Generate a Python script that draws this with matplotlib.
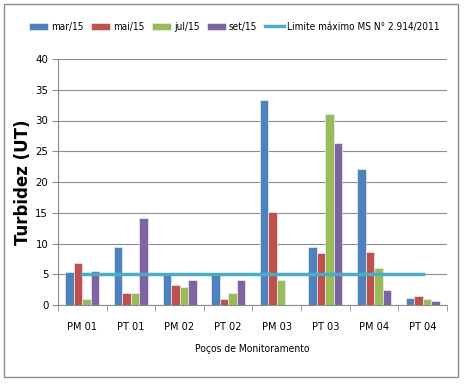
import matplotlib
matplotlib.use("Agg")
import matplotlib.pyplot as plt
import numpy as np
from matplotlib.patches import Rectangle

categories = ["PM 01", "PT 01", "PM 02", "PT 02", "PM 03", "PT 03", "PM 04", "PT 04"]
mar15 = [5.4, 9.4, 5.0, 5.0, 33.3, 9.4, 22.1, 1.1]
mai15 = [6.8, 2.0, 3.2, 1.0, 15.2, 8.4, 8.6, 1.5]
jul15 = [0.9, 1.9, 3.0, 1.9, 4.0, 31.0, 6.0, 0.9]
set15 = [5.6, 14.2, 4.1, 4.0, 0.0, 26.4, 2.5, 0.6]
limite = [5] * len(categories)
series_names = ["mar/15", "mai/15", "jul/15", "set/15"]
line_name = "Limite máximo MS N° 2.914/2011"

colors = ["#4F81BD", "#C0504D", "#9BBB59", "#8064A2"]
line_color = "#4BACC6"

plt.rcParams['font.family'] = ['DejaVu Sans']
plt.rcParams['font.stretch'] = 'condensed'

fig = plt.figure(figsize=(4.67, 3.85), dpi=100)
ax = fig.add_axes([58/467, 1-305/385, (447-58)/467, (305-59)/385])

x = np.arange(len(categories))
w = 0.175
allv = [mar15, mai15, jul15, set15]
handles = []
for i, (vals, c, n) in enumerate(zip(allv, colors, series_names)):
    h = ax.bar(x + (i - 1.5) * w, vals, w, color=c, label=n, edgecolor="#E6EEF7", linewidth=0.5, zorder=3)
    handles.append(h)
ln, = ax.plot(x, limite, color=line_color, lw=2.5, label=line_name, zorder=4)
handles.append(ln)

ax.set_xlim(-0.5, len(categories) - 0.5)
ax.set_ylim(0, 40)
ax.set_yticks(range(0, 41, 5))
ax.yaxis.grid(True, color="#8C8C8C", lw=0.8, zorder=0)
ax.set_axisbelow(True)
for s in ["top", "right"]:
    ax.spines[s].set_visible(False)
ax.spines["left"].set_color("#8C8C8C")
ax.spines["bottom"].set_color("#8C8C8C")
ax.set_xticks(x)
ax.set_xticklabels(categories, fontsize=7.8)
ax.tick_params(axis="x", length=0, pad=12)
ax.set_xticks(np.arange(-0.5, len(categories), 1), minor=True)
ax.tick_params(axis="x", which="minor", length=4, color="#8C8C8C")
ax.tick_params(axis="y", labelsize=8.2, length=4, color="#8C8C8C", pad=3)
ax.set_ylabel("Turbidez (UT)", fontsize=12, fontweight="bold", labelpad=2,
              fontstretch='normal')
ax.set_xlabel("Poços de Monitoramento", fontsize=7.4, labelpad=9)

leg = fig.legend(handles=handles, loc="center", bbox_to_anchor=(234/467, 1-27/385), ncol=5, frameon=False,
                 fontsize=7.2, handlelength=1.9, handleheight=0.8, columnspacing=0.75, handletextpad=0.3)

fig.patches.append(Rectangle((4/467, 1-377/385), (458-4)/467, (377-4)/385, transform=fig.transFigure,
                             fill=False, edgecolor="#8C8C8C", lw=1))
fig.savefig("out.png", dpi=100)
